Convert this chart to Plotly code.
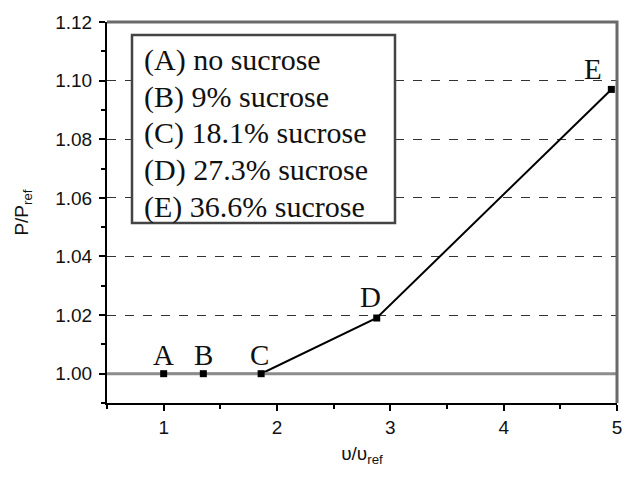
import plotly.graph_objects as go

# Relative viscosity vs. relative pressure for the sucrose series
labels = ["A", "B", "C", "D", "E"]
visc_ratio = [1.00, 1.35, 1.86, 2.88, 4.95]
press_ratio = [1.000, 1.000, 1.000, 1.019, 1.097]

legend_lines = [
    "(A) no sucrose",
    "(B) 9% sucrose",
    "(C) 18.1% sucrose",
    "(D) 27.3% sucrose",
    "(E) 36.6% sucrose",
]

y_ticks = [1.00, 1.02, 1.04, 1.06, 1.08, 1.10, 1.12]
x_ticks = [1, 2, 3, 4, 5]
x_range = [0.5, 5.0]
y_range = [0.99, 1.12]
ref_level = 1.00

SANS = "Arial, Liberation Sans, sans-serif"
SERIF = "Times New Roman, Liberation Serif, serif"

fig = go.Figure()

# connecting curve
fig.add_trace(go.Scatter(
    x=visc_ratio, y=press_ratio, mode="lines",
    line=dict(color="black", width=2), hoverinfo="skip", showlegend=False,
))

# reference level P/Pref = 1
fig.add_trace(go.Scatter(
    x=x_range, y=[ref_level, ref_level], mode="lines",
    line=dict(color="#8c8c8c", width=3), hoverinfo="skip", showlegend=False,
))

# measured points
fig.add_trace(go.Scatter(
    x=visc_ratio, y=press_ratio, mode="markers",
    marker=dict(symbol="square", size=7, color="black"),
    showlegend=False,
))

# point letters
x_shifts = [0, 0, -2, -6, -18]
y_shifts = [19, 19, 19, 21, 20]
for lab, xv, yv, dx, dy in zip(labels, visc_ratio, press_ratio, x_shifts, y_shifts):
    fig.add_annotation(
        x=xv, y=yv, xref="x", yref="y", text=lab, showarrow=False,
        xshift=dx, yshift=dy, xanchor="center", yanchor="middle",
        font=dict(family=SERIF, size=29, color="#111"),
    )

# key box
plot_l, plot_r, plot_t, plot_b = 107, 617, 20, 403
pw, ph = plot_r - plot_l, plot_b - plot_t


def px_x(p):
    return (p - plot_l) / pw


def px_y(p):
    return (plot_b - p) / ph


fig.add_shape(
    type="rect", xref="paper", yref="paper",
    x0=px_x(132), x1=px_x(395), y0=px_y(222), y1=px_y(33),
    line=dict(color="#444", width=2.5), fillcolor="white", layer="above",
)
for i, txt in enumerate(legend_lines):
    fig.add_annotation(
        x=px_x(142), y=px_y(58 + 37 * i), xref="paper", yref="paper",
        text=txt, showarrow=False, xanchor="left", yanchor="middle",
        font=dict(family=SERIF, size=30, color="#111"),
    )

# top and right frame edges
fig.add_shape(
    type="path", xref="paper", yref="paper",
    path="M 0 1 L 1 1 L 1 0",
    line=dict(color="#6a6a6a", width=3), layer="above",
)

fig.update_xaxes(
    range=x_range, tickvals=x_ticks, ticktext=[str(v) for v in x_ticks],
    showline=True, linecolor="black", linewidth=2,
    ticks="outside", ticklen=6, tickwidth=2, tickcolor="black",
    minor=dict(dtick=0.5, tick0=0.5, ticks="outside", ticklen=4,
               tickwidth=1.5, tickcolor="black", showgrid=False),
    showgrid=False, zeroline=False,
    tickfont=dict(family=SANS, size=19, color="#111"),
    title=dict(text="υ/υ<sub>ref</sub>", font=dict(family=SANS, size=19, color="#111"),
               standoff=10),
)
fig.update_yaxes(
    range=y_range, tickvals=y_ticks, ticktext=[f"{v:.2f}" for v in y_ticks],
    showline=True, linecolor="black", linewidth=2,
    ticks="outside", ticklen=6, tickwidth=2, tickcolor="black",
    ticklabelstandoff=3,
    minor=dict(dtick=0.01, tick0=0.99, ticks="outside", ticklen=4,
               tickwidth=1.5, tickcolor="black", showgrid=False),
    showgrid=True, gridcolor="#333", gridwidth=1, griddash="dash",
    zeroline=False,
    tickfont=dict(family=SANS, size=19, color="#111"),
    title=dict(text="P/P<sub>ref</sub>", font=dict(family=SANS, size=19, color="#111"),
               standoff=22),
)

fig.update_layout(
    width=636, height=481,
    margin=dict(l=plot_l, r=636 - plot_r, t=plot_t, b=481 - plot_b),
    paper_bgcolor="white", plot_bgcolor="white",
    showlegend=False,
)

fig.write_html("out.html")
